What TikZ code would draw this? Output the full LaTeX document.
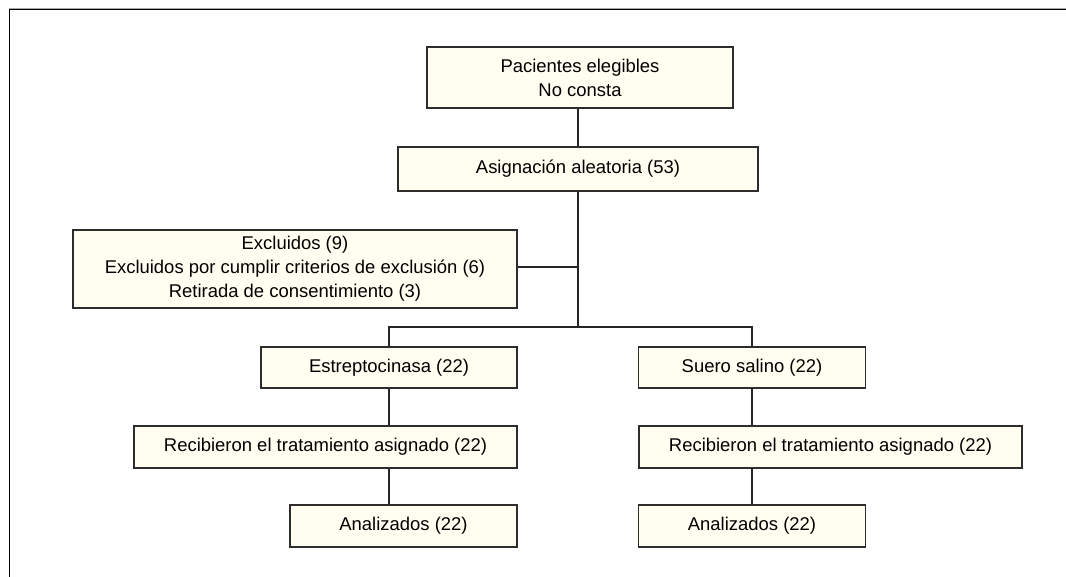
\documentclass[tikz,border=0pt]{standalone}
\usepackage{fontspec}
\setmainfont{Liberation Sans}
\usetikzlibrary{calc}
\definecolor{boxfill}{RGB}{255,254,240}
\definecolor{boxline}{RGB}{45,45,45}

\begin{document}
\begin{tikzpicture}[x=0.2mm,y=-0.2mm,
  caja/.style 2 args={draw=boxline,fill=boxfill,line width=0.7pt,inner sep=0pt,
    align=center,font=\fontsize{10.5}{13.6}\selectfont,
    minimum width=#1*0.2mm,minimum height=#2*0.2mm},
  linea/.style={draw=black!85,line width=0.65pt}]
\useasboundingbox (0,0) rectangle (1066,577);
% marco
\draw[black!35,line width=0.4pt] (9,8)--(1066,8);
\draw[black,line width=0.9pt] (1066,9.5) -- (9.5,9.5) -- (9.5,577);
% cajas
\node[caja={306}{61}] (elegibles) at (580,77.5) {Pacientes elegibles\\No consta};
\node[caja={360}{44}] (asignacion) at (578,169) {Asignación aleatoria (53)};
\node[caja={444}{78}] (excluidos) at (295,269) {Excluidos (9)\\Excluidos por cumplir criterios de exclusión (6)\\Retirada de consentimiento (3)};
\node[caja={256}{41}] (estrepto) at (389,367.5) {Estreptocinasa (22)};
\node[caja={227}{41}] (suero) at (752,367.5) {Suero salino (22)};
\node[caja={383}{42}] (recibA) at (325.5,447) {Recibieron el tratamiento asignado (22)};
\node[caja={383}{42}] (recibB) at (830.5,447) {Recibieron el tratamiento asignado (22)};
\node[caja={227}{42}] (analA) at (403.5,526) {Analizados (22)};
\node[caja={227}{42}] (analB) at (752,526) {Analizados (22)};
% uniones
\coordinate (tronco) at (578,327);
\coordinate (cruce) at (578,267);
\draw[linea] (asignacion.north |- elegibles.south) -- (asignacion.north);
\draw[linea] (asignacion.south) -- (tronco);
\draw[linea] (excluidos.east |- cruce) -- (cruce);
\draw[linea] (estrepto.north) -- (estrepto.north |- tronco) -- (suero.north |- tronco) -- (suero.north);
\foreach \col/\rec/\ana in {estrepto/recibA/analA, suero/recibB/analB} {
 \draw[linea] (\col.south) -- (\col.south |- \rec.north);
 \draw[linea] (\col.south |- \rec.south) -- (\col.south |- \ana.north);
}
\end{tikzpicture}
\end{document}
